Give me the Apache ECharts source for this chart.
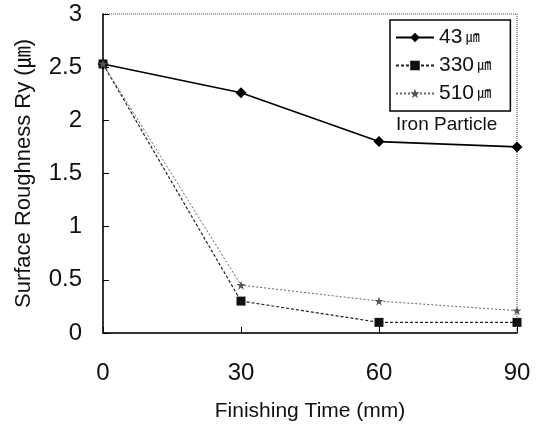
<!DOCTYPE html>
<html lang="en">
<head>
    <meta charset="UTF-8">
    <title>Surface Roughness</title>
    <style>
        html,body{margin:0;padding:0;background:#fff;}
        #chart{width:543px;height:433px;}
    </style>
</head>
<body>
<div id="chart"></div>
<script src="https://cdn.jsdelivr.net/npm/echarts@6/dist/echarts.min.js"></script>
<script>
    // finishing time (x) and roughness values
    let times = [0, 30, 60, 90];
    let rough43 = [2.53, 2.26, 1.80, 1.75];
    let rough330 = [2.53, 0.30, 0.10, 0.10];
    let rough510 = [2.53, 0.45, 0.30, 0.21];
    let seriesNames = ['43 ㎛', '330 ㎛', '510 ㎛'];

    let font = '"Liberation Sans", "Noto Sans CJK JP", sans-serif';
    let star = 'path://M5,0 L6.2,3.6 L10,3.6 L6.9,5.8 L8.1,9.5 L5,7.2 L1.9,9.5 L3.1,5.8 L0,3.6 L3.8,3.6 Z';

    function pairs(vals){
        return times.map(function(t, i){ return [t, vals[i]]; });
    }

    let myChart = echarts.init(document.getElementById('chart'));
    let option = {
        backgroundColor: '#fff',
        animation: false,
        textStyle: {fontFamily: font},
        grid: {
            left: 103, right: 26, top: 14, bottom: 100,
            show: true,
            borderColor: '#444',
            borderWidth: 1,
            borderType: 'dotted'
        },
        legend: {
            orient: 'vertical',
            left: 390,
            top: 20,
            padding: [7, 19, 7, 5],
            itemGap: 7,
            itemWidth: 38,
            itemHeight: 12,
            borderColor: '#000',
            borderWidth: 1.5,
            formatter: function(name){
                let p = name.split(' ');
                return '{n|' + p[0] + '} {u|' + p[1] + '}';
            },
            textStyle: {
                color: '#111', fontFamily: font,
                rich: {
                    n: {fontSize: 21, color: '#111', fontFamily: font},
                    u: {fontSize: 14, color: '#111', fontFamily: font}
                }
            },
            data: seriesNames
        },
        graphic: [{
            type: 'text',
            left: 396,
            top: 115,
            style: {text: 'Iron Particle', fontSize: 19, fill: '#111', fontFamily: font}
        }],
        xAxis: {
            type: 'value',
            min: 0, max: 90, interval: 30,
            name: 'Finishing Time (mm)',
            nameLocation: 'middle',
            nameGap: 68,
            nameTextStyle: {fontSize: 21, color: '#111', fontFamily: font},
            axisLine: {show: true, onZero: false, lineStyle: {color: '#000', width: 1.5}},
            axisTick: {show: true, inside: true, length: 6, lineStyle: {color: '#000'}},
            axisLabel: {fontSize: 24, color: '#111', margin: 28, fontFamily: font},
            splitLine: {show: false}
        },
        yAxis: {
            type: 'value',
            min: 0, max: 3, interval: 0.5,
            name: 'Surface Roughness Ry (㎛)',
            nameLocation: 'middle',
            nameGap: 68,
            nameRotate: 90,
            nameTextStyle: {fontSize: 22, color: '#111', fontFamily: font},
            axisLine: {show: true, lineStyle: {color: '#000', width: 1.5}},
            axisTick: {show: true, inside: true, length: 6, lineStyle: {color: '#000'}},
            axisLabel: {fontSize: 24, color: '#111', margin: 21, fontFamily: font},
            splitLine: {show: false}
        },
        series: [{
            name: seriesNames[0],
            type: 'line',
            data: pairs(rough43),
            symbol: 'diamond',
            symbolSize: 11,
            itemStyle: {color: '#000'},
            lineStyle: {color: '#000', width: 1.6, type: 'solid'}
        }, {
            name: seriesNames[1],
            type: 'line',
            data: pairs(rough330),
            symbol: 'rect',
            symbolSize: 9,
            itemStyle: {color: '#111'},
            lineStyle: {color: '#222', width: 1.2, type: [3, 2]}
        }, {
            name: seriesNames[2],
            type: 'line',
            data: pairs(rough510),
            symbol: star,
            symbolSize: 9,
            itemStyle: {color: '#555'},
            lineStyle: {color: '#666', width: 1, type: [2, 2]}
        }]
    };
    myChart.setOption(option);
</script>
</body>
</html>
